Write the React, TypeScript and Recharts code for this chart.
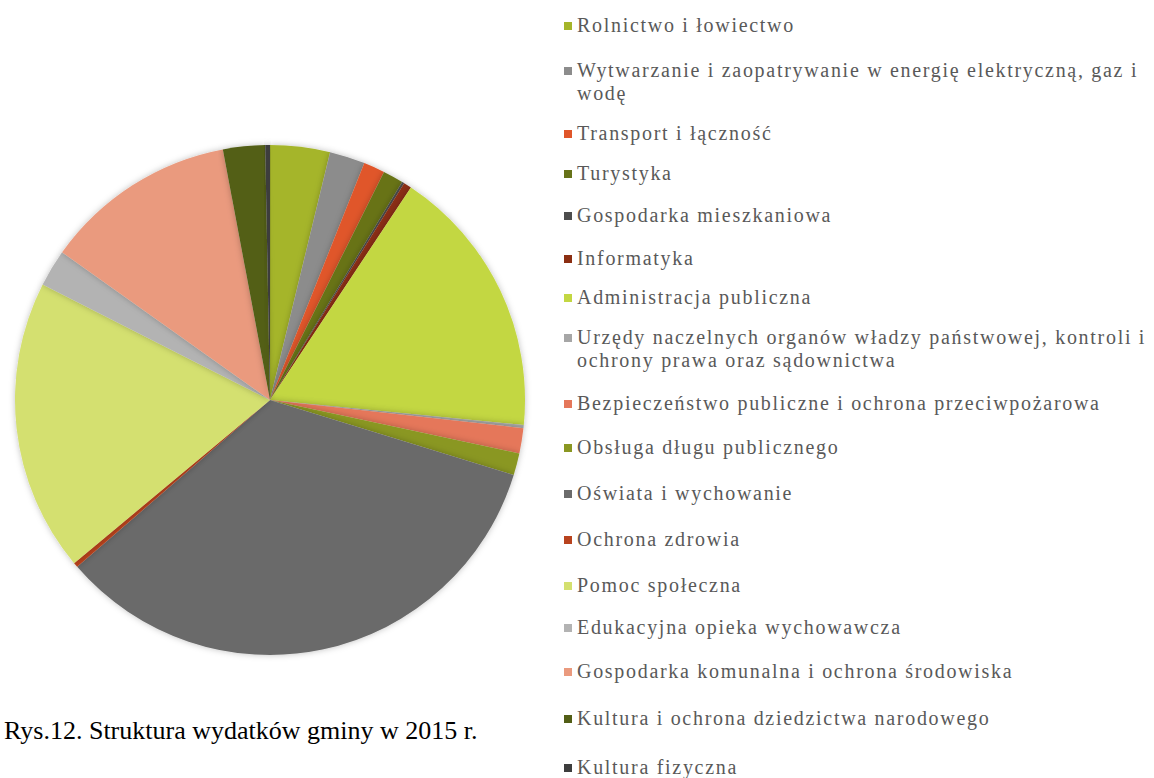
import { PieChart, Pie, Cell } from 'recharts';

const categories = [
  'Rolnictwo i łowiectwo',
  'Wytwarzanie i zaopatrywanie w energię elektryczną, gaz i wodę',
  'Transport i łączność',
  'Turystyka',
  'Gospodarka mieszkaniowa',
  'Informatyka',
  'Administracja publiczna',
  'Urzędy naczelnych organów władzy państwowej, kontroli i ochrony prawa oraz sądownictwa',
  'Bezpieczeństwo publiczne i ochrona przeciwpożarowa',
  'Obsługa długu publicznego',
  'Oświata i wychowanie',
  'Ochrona zdrowia',
  'Pomoc społeczna',
  'Edukacyjna opieka wychowawcza',
  'Gospodarka komunalna i ochrona środowiska',
  'Kultura i ochrona dziedzictwa narodowego',
  'Kultura fizyczna',
];

// udział w wydatkach, %
const shares = [
  3.8, 2.25, 1.35, 1.3, 0.15, 0.5, 17.3, 0.2, 1.6, 1.4, 34.0, 0.3, 18.6, 2.35, 12.25, 2.67, 0.3,
];

const COLORS = [
  '#A5B52A', '#8C8C8C', '#E0562A', '#677319', '#4D4D4D', '#8B2E12', '#C3D742', '#A6A6A6',
  '#E5775A', '#8A9722', '#6B6B6B', '#B8431E', '#D4E06F', '#B3B3B3', '#EA9A7E', '#525E16',
  '#3D3D3D',
];

const caption = 'Rys.12. Struktura wydatków gminy w 2015 r.';

// layout: vertical centre of the first line of each legend entry
const LEGEND_ROW_Y = [25, 70, 133, 173, 215, 258, 297, 337, 403, 447, 493, 539, 585, 627, 671, 718, 767];
const LINE_H = 23;

const data = categories.map((name, i) => ({ name, value: shares[i] }));

const LegendList = () => (
  <>
    {data.map((d, i) => (
      <div
        key={d.name}
        style={{
          position: 'absolute',
          left: 564,
          top: LEGEND_ROW_Y[i] - LINE_H / 2,
          width: 600,
          display: 'flex',
          alignItems: 'flex-start',
        }}
      >
        <span
          style={{
            width: 8,
            height: 8,
            background: COLORS[i],
            marginTop: 8,
            marginRight: 5,
            flex: 'none',
          }}
        />
        <span
          style={{
            width: 574,
            fontFamily: '"Liberation Serif", "Times New Roman", serif',
            fontSize: 20,
            lineHeight: `${LINE_H}px`,
            color: '#595959',
            letterSpacing: 1.7,
          }}
        >
          {d.name}
        </span>
      </div>
    ))}
  </>
);

export default function App() {
  return (
    <div
      style={{
        position: 'absolute',
        left: 0,
        top: 0,
        width: 1154,
        height: 778,
        background: '#fff',
        overflow: 'hidden',
      }}
    >
      <PieChart width={560} height={778} margin={{ top: 0, right: 0, bottom: 0, left: 0 }}>
        <defs>
          <filter id="pieShadow" x="-10%" y="-10%" width="120%" height="120%">
            <feDropShadow dx="0" dy="0" stdDeviation="3" floodColor="#000" floodOpacity="0.25" />
          </filter>
        </defs>
        <Pie
          data={data}
          dataKey="value"
          nameKey="name"
          cx={270}
          cy={400}
          outerRadius={255}
          startAngle={90}
          endAngle={-270}
          stroke="none"
          isAnimationActive={false}
          style={{ filter: 'url(#pieShadow)' }}
        >
          {data.map((d, i) => (
            <Cell key={`cell-${i}`} fill={COLORS[i]} />
          ))}
        </Pie>
      </PieChart>
      <LegendList />
      <div
        style={{
          position: 'absolute',
          left: 4,
          top: 716,
          fontFamily: '"Liberation Serif", "Times New Roman", serif',
          fontSize: 26,
          lineHeight: '30px',
          color: '#000',
          whiteSpace: 'nowrap',
        }}
      >
        {caption}
      </div>
    </div>
  );
}
